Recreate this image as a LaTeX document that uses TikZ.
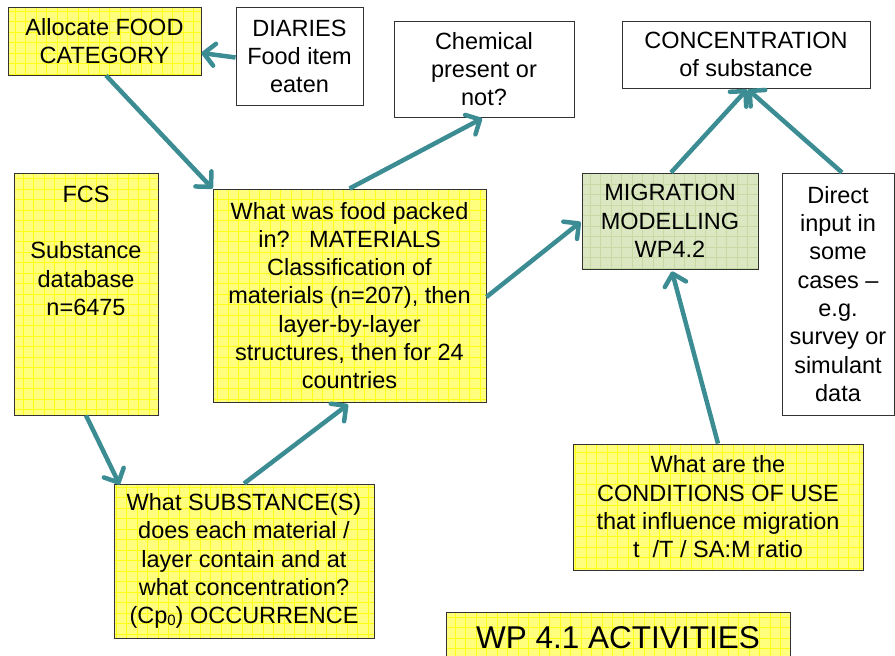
\documentclass[tikz,border=0pt]{standalone}
\usepackage{fontspec}
\setmainfont{Liberation Sans}
\usetikzlibrary{arrows.meta,calc}
\definecolor{tealarrow}{RGB}{60,140,147}
\definecolor{yfill}{RGB}{255,255,125}
\definecolor{ygrid}{RGB}{255,255,20}
\definecolor{gfill}{RGB}{218,231,192}
\definecolor{ggrid}{RGB}{200,218,164}
\definecolor{boxline}{RGB}{50,50,50}
\begin{document}
\begin{tikzpicture}[x=1pt,y=-1pt,
  box/.style={draw=boxline, line width=0.9pt, inner sep=0pt, align=center,
    font=\fontsize{23.5}{28.3}\selectfont},
  wbox/.style={box, fill=white},
  ybox/.style={box, fill=yfill, path picture={\draw[ygrid, line width=0.8pt, step=10.5pt]
    (path picture bounding box.south west) grid (path picture bounding box.north east);}},
  gbox/.style={box, fill=gfill, path picture={\draw[ggrid, line width=0.8pt, step=10.5pt]
    (path picture bounding box.south west) grid (path picture bounding box.north east);}},
  arr/.style={draw=tealarrow, line width=4.5pt, -{Straight Barb[length=11pt, width=22pt, round]}},
]
\useasboundingbox (0,0) rectangle (895,656);
\clip (0,0) rectangle (895,656);

\node[ybox, minimum width=193pt, minimum height=68pt] (alloc) at (104.5,41) {Allocate FOOD\\CATEGORY};
\node[wbox, minimum width=127pt, minimum height=98pt] (diaries) at (299.5,56.5) {DIARIES\\Food item\\eaten};
\node[wbox, minimum width=180pt, minimum height=96pt] (chem) at (484,69) {Chemical\\present or\\not?};
\node[wbox, minimum width=248pt, minimum height=67pt] (conc) at (746,54.5) {CONCENTRATION\\of substance};
\node[ybox, minimum width=144pt, minimum height=242pt] (fcs) at (86,294) {};
\node[anchor=north, inner sep=0pt, align=center, font=\fontsize{23.5}{28.3}\selectfont] (fcstext) at ($(fcs.north)+(0,13)$) {FCS\\[28.3pt]Substance\\database\\n=6475};
\node[ybox, minimum width=273pt, minimum height=213pt] (mat) at (349.5,295.5) {What was food packed\\in?~~~MATERIALS\\Classification of\\materials (n=207), then\\layer-by-layer\\structures, then for 24\\countries};
\node[gbox, minimum width=176pt, minimum height=96pt] (mig) at (670,221) {MIGRATION\\MODELLING\\WP4.2};
\node[wbox, minimum width=112pt, minimum height=242pt] (direct) at (838,294) {Direct\\input in\\some\\cases –\\e.g.\\survey or\\simulant\\data};
\node[ybox, minimum width=260pt, minimum height=154pt] (subst) at (244,561) {What SUBSTANCE(S)\\does each material /\\layer contain and at\\what concentration?\\(Cp\raisebox{-2pt}{\fontsize{15}{15}\selectfont 0}) OCCURRENCE};
\node[ybox, minimum width=290pt, minimum height=126pt] (cond) at (718,507) {What are the\\CONDITIONS OF USE\\that influence migration\\t~~/T / SA:M ratio};
\node[ybox, minimum width=344pt, minimum height=52pt, font=\fontsize{31.5}{36}\selectfont] (wp) at (618,638) {WP 4.1 ACTIVITIES};

\draw[arr] ($(diaries.west)+(0,1)$) -- ($(alloc.east)+(0,12)$);
\draw[arr] ($(alloc.south)+(1.5,0)$) -- (mat.north west);
\draw[arr] (mat.north) -- ($(chem.south)+(-2,1)$);
\draw[arr] ($(mat.east)+(0,1.5)$) -- ($(mig.west)+(-1,1)$);
\draw[arr] ($(mig.north)+(1,0)$) -- ($(conc.south)+(1,1)$);
\draw[arr] ($(direct.north)+(4,0)$) -- ($(conc.south)+(2,1)$);
\draw[arr] (fcs.south) -- ($(subst.north west)+(6,1)$);
\draw[arr] (subst.north) -- ($(mat.south)+(-1.5,2)$);
\draw[arr] (cond.north) -- ($(mig.south)+(2,2)$);
\end{tikzpicture}
\end{document}
